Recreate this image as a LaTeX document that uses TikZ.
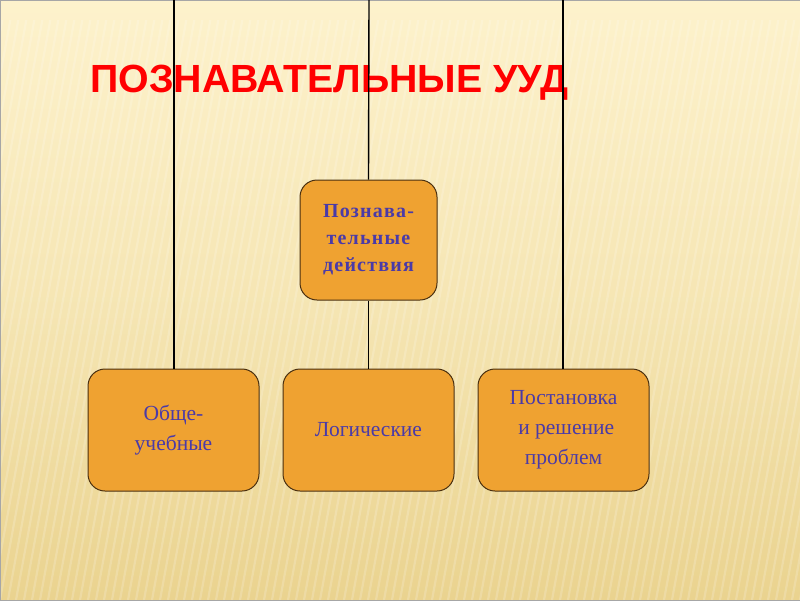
\documentclass[tikz,border=0pt]{standalone}
\usepackage{fontspec}
\setmainfont{Liberation Serif}
\newfontfamily\titlefont{Liberation Sans}
\newfontfamily\wideserif[LetterSpace=6]{Liberation Serif}
\definecolor{bgA}{HTML}{FDF2CC}
\definecolor{bgB}{HTML}{EAD38F}
\definecolor{boxfill}{HTML}{EFA231}
\definecolor{boxline}{HTML}{4A3010}
\definecolor{txt}{HTML}{4A3AA8}
\definecolor{titlered}{HTML}{FF0000}
\tikzset{
  box/.style={draw=boxline, line width=1pt, fill=boxfill, rounded corners=17pt,
    minimum width=171pt, minimum height=122pt, align=center, text=txt,
    font=\fontsize{21.5}{30}\selectfont, inner sep=0pt},
  topbox/.style={box, minimum width=137pt, minimum height=120pt,
    font=\wideserif\fontsize{20}{27}\selectfont\bfseries},
  conn/.style={draw=black, line width=1.4pt},
}
\begin{document}
\begin{tikzpicture}[x=1pt,y=-1pt]
\useasboundingbox (0,0) rectangle (800,600);
\shade[top color=bgA, bottom color=bgB, middle color=bgA!60!bgB] (0,0) rectangle (800,600);
\begin{scope}
\clip (0,20) rectangle (800,600);
\foreach \i in {-40,...,110}{
  \draw[white, opacity=0.18, line width=2.2pt] (\i*8,600) -- (\i*8+110,0);
}
\end{scope}
\draw[gray!70, line width=0.8pt] (0,0) rectangle (800,600);
\node[anchor=base west, inner sep=0pt, text=titlered, font=\titlefont\bfseries\fontsize{39.3}{45}\selectfont] (title) at (90,92) {ПОЗНАВАТЕЛЬНЫЕ УУД};
\coordinate (tl) at (174,0);
\coordinate (tm) at (369,0);
\coordinate (tr) at (563,0);
\node[topbox] (top) at (368.5,240) {Познава-\\тельные\\действия};
\node[box] (b1) at (173.5,430) {Обще-\\учебные};
\node[box] (b2) at (368.5,430) {Логические};
\node[box] (b3) at (563.5,430) {Постановка\\\ и решение\\проблем};
\draw[conn] (tl) -- (tl |- b1.north);
\draw[conn] (tm) -- (top.north);
\draw[conn] (top.south) -- (b2.north);
\draw[conn] (tr) -- (tr |- b3.north);
\end{tikzpicture}
\end{document}
